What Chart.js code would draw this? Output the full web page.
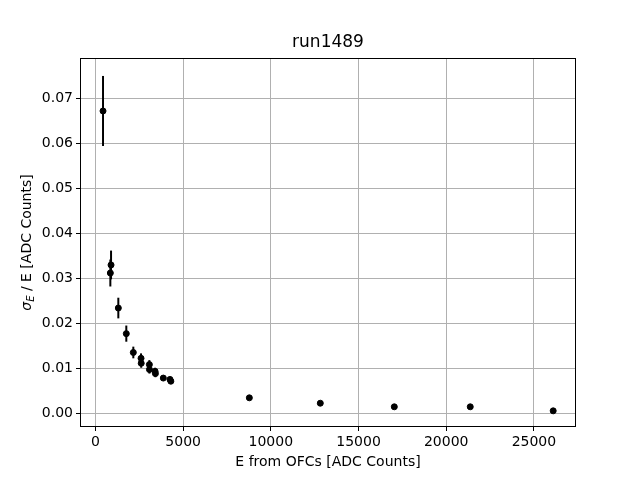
<!DOCTYPE html>
<html>
<head>
<meta charset="utf-8">
<script src="https://cdn.jsdelivr.net/npm/chart.js@4"></script>
<style>
  body { margin: 0; background: #fff; }
  canvas { display: block; }
</style>
</head>
<body>
<canvas id="chart" width="640" height="480"></canvas>
<script>
// energy from OFCs [ADC counts] and relative resolution sigma_E / E with its error
const energy = [433, 850, 890, 1305, 1760, 2160, 2600, 2610, 3075, 3080, 3400, 3420, 3870, 4250, 4300, 8775, 12820, 17040, 21370, 26100];
const resolution = [0.0673, 0.0312, 0.0330, 0.0234, 0.0177, 0.0135, 0.0122, 0.0111, 0.0108, 0.0097, 0.0093, 0.0088, 0.0078, 0.0075, 0.0071, 0.0034, 0.0022, 0.0014, 0.0014, 0.0005];
const resolutionErr = [0.0078, 0.0030, 0.0032, 0.0023, 0.0018, 0.0013, 0.0011, 0.0010, 0.0010, 0.0009, 0.0008, 0.0008, 0.0005, 0.0004, 0.0004, 0.0002, 0.0001, 0.0001, 0.0001, 0.0001];

const xTicks = [0, 5000, 10000, 15000, 20000, 25000];
const yTicks = [0, 0.01, 0.02, 0.03, 0.04, 0.05, 0.06, 0.07];

const FONT = 'DejaVu Sans';

const errorBars = {
  id: 'errorBars',
  beforeDatasetsDraw(chart) {
    const { ctx, chartArea, scales: { x, y } } = chart;
    ctx.save();
    ctx.beginPath();
    ctx.rect(chartArea.left, chartArea.top, chartArea.width, chartArea.height);
    ctx.clip();
    ctx.strokeStyle = '#000';
    ctx.lineWidth = 2;
    energy.forEach((e, i) => {
      const px = x.getPixelForValue(e);
      ctx.beginPath();
      ctx.moveTo(px, y.getPixelForValue(resolution[i] - resolutionErr[i]));
      ctx.lineTo(px, y.getPixelForValue(resolution[i] + resolutionErr[i]));
      ctx.stroke();
    });
    ctx.restore();
  }
};

const frameAndLabels = {
  id: 'frameAndLabels',
  afterDraw(chart) {
    const { ctx, chartArea } = chart;
    ctx.save();
    ctx.strokeStyle = '#000';
    ctx.lineWidth = 1;
    ctx.strokeRect(chartArea.left + 0.5, chartArea.top + 0.5, chartArea.width - 1, chartArea.height - 1);

    // title
    ctx.fillStyle = '#000';
    ctx.textAlign = 'center';
    ctx.textBaseline = 'middle';
    ctx.font = '17px ' + FONT;
    ctx.fillText('run1489', (chartArea.left + chartArea.right) / 2, 43);

    // y label with subscript
    ctx.translate(27, (chartArea.top + chartArea.bottom) / 2);
    ctx.rotate(-Math.PI / 2);
    ctx.textAlign = 'left';
    const main = 'italic 14px ' + FONT;
    const sub = 'italic 10px ' + FONT;
    const rest = ' / E [ADC Counts]';
    ctx.font = main;
    const wSigma = ctx.measureText('σ').width;
    ctx.font = sub;
    const wSub = ctx.measureText('E').width;
    ctx.font = '14px ' + FONT;
    const wRest = ctx.measureText(rest).width;
    let cx = -(wSigma + wSub + wRest) / 2;
    ctx.font = main;
    ctx.fillText('σ', cx, 0);
    cx += wSigma;
    ctx.font = sub;
    ctx.fillText('E', cx, 4);
    cx += wSub;
    ctx.font = '14px ' + FONT;
    ctx.fillText(rest, cx, 0);
    ctx.restore();
  }
};

new Chart(document.getElementById('chart'), {
  type: 'scatter',
  data: {
    datasets: [{
      data: energy.map((e, i) => ({ x: e, y: resolution[i] })),
      backgroundColor: '#000',
      borderColor: '#000',
      pointRadius: 3,
      pointHoverRadius: 3,
      showLine: false
    }]
  },
  options: {
    responsive: false,
    animation: false,
    layout: { padding: { top: 58, right: 64, left: 0, bottom: 0 } },
    plugins: {
      legend: { display: false },
      tooltip: { enabled: false }
    },
    scales: {
      x: {
        type: 'linear',
        min: -880,
        max: 27400,
        afterFit: scale => { scale.height = 53; },
        afterBuildTicks: scale => { scale.ticks = xTicks.map(v => ({ value: v })); },
        grid: { color: '#b0b0b0', lineWidth: 1, tickColor: '#000', tickLength: 4 },
        border: { display: false },
        ticks: {
          color: '#000',
          font: { family: FONT, size: 14 },
          padding: 3,
          maxRotation: 0,
          callback: v => String(v)
        },
        title: {
          display: true,
          text: 'E from OFCs [ADC Counts]',
          color: '#000',
          font: { family: FONT, size: 14 },
          padding: { top: 0, bottom: 9 }
        }
      },
      y: {
        type: 'linear',
        min: -0.0031,
        max: 0.0791,
        afterFit: scale => { scale.width = 80; },
        afterBuildTicks: scale => { scale.ticks = yTicks.map(v => ({ value: v })); },
        grid: { color: '#b0b0b0', lineWidth: 1, tickColor: '#000', tickLength: 4 },
        border: { display: false },
        ticks: {
          color: '#000',
          font: { family: FONT, size: 14 },
          padding: 3,
          callback: v => v.toFixed(2)
        }
      }
    }
  },
  plugins: [errorBars, frameAndLabels]
});
</script>
</body>
</html>
